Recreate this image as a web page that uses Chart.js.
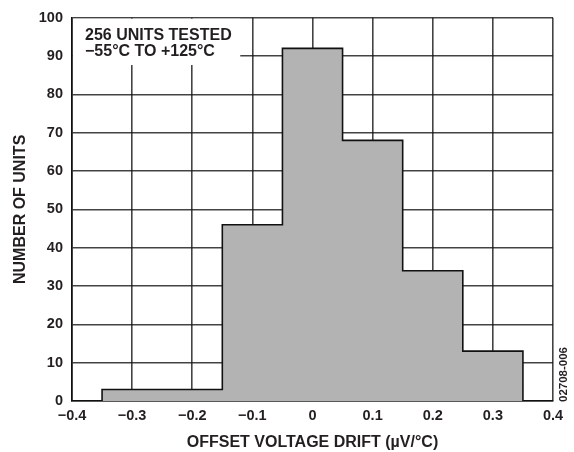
<!DOCTYPE html>
<html>
<head>
<meta charset="utf-8">
<script src="https://cdn.jsdelivr.net/npm/chart.js@4/dist/chart.umd.min.js"></script>
<style>
  html, body { margin: 0; padding: 0; background: #ffffff; }
  #wrap { width: 574px; height: 452px; }
</style>
</head>
<body>
<div id="wrap"><canvas id="c" width="574" height="452"></canvas></div>
<script>
// Histogram of offset voltage drift
const binEdges = [-0.35, -0.15, -0.05, 0.05, 0.15, 0.25, 0.35];
const unitCounts = [3, 46, 92, 68, 34, 13];

const xTickValues = [-0.4, -0.3, -0.2, -0.1, 0, 0.1, 0.2, 0.3, 0.4];
const xTickLabels = ['\u22120.4', '\u22120.3', '\u22120.2', '\u22120.1', '0', '0.1', '0.2', '0.3', '0.4'];
const yTickValues = [0, 10, 20, 30, 40, 50, 60, 70, 80, 90, 100];
const yTickLabels = ['0', '10', '20', '30', '40', '50', '60', '70', '80', '90', '100'];

const noteLines = ['256 UNITS TESTED', '\u221255\u00B0C TO +125\u00B0C'];
const xTitle = 'OFFSET VOLTAGE DRIFT (\u00B5V/\u00B0C)';
const yTitle = 'NUMBER OF UNITS';
const figureId = '02708-006';

// Outline of the histogram as a closed step path
const outline = [{ x: binEdges[0], y: 0 }];
unitCounts.forEach((n, i) => {
  outline.push({ x: binEdges[i], y: n });
  outline.push({ x: binEdges[i + 1], y: n });
});
outline.push({ x: binEdges[binEdges.length - 1], y: 0 });

const FONT = "'Liberation Sans', Arial, Helvetica, sans-serif";
const INK = '#231f20';

const notePlugin = {
  id: 'note',
  afterDraw(chart) {
    const { ctx, chartArea } = chart;
    const x = chart.scales.x, y = chart.scales.y;
    ctx.save();
    // white panel behind the test note
    ctx.fillStyle = '#ffffff';
    const right = x.getPixelForValue(-0.2) + 48;
    const bottom = y.getPixelForValue(90) + 9;
    ctx.fillRect(chartArea.left + 1, chartArea.top + 1, right - chartArea.left - 1, bottom - chartArea.top - 1);
    ctx.fillStyle = INK;
    ctx.font = 'bold 16px ' + FONT;
    ctx.textBaseline = 'alphabetic';
    ctx.textAlign = 'left';
    ctx.fillText(noteLines[0], chartArea.left + 13, chartArea.top + 22);
    ctx.fillText(noteLines[1], chartArea.left + 13, chartArea.top + 38);
    // figure id, rotated along the right edge
    ctx.translate(chartArea.right + 11, chartArea.bottom + 1);
    ctx.rotate(-Math.PI / 2);
    ctx.font = 'bold 11.5px ' + FONT;
    ctx.textBaseline = 'middle';
    ctx.textAlign = 'left';
    ctx.fillText(figureId, 0, 0);
    ctx.restore();
  }
};

new Chart(document.getElementById('c'), {
  type: 'line',
  data: {
    datasets: [{
      data: outline,
      borderColor: '#111111',
      borderWidth: 1.6,
      backgroundColor: '#b3b3b3',
      fill: 'origin',
      pointRadius: 0,
      tension: 0
    }]
  },
  options: {
    responsive: false,
    animation: false,
    events: [],
    layout: { padding: { top: 15, right: 21, left: 0, bottom: 0 } },
    plugins: { legend: { display: false }, tooltip: { enabled: false } },
    scales: {
      x: {
        type: 'linear',
        min: -0.4,
        max: 0.4,
        z: 1,
        afterBuildTicks: (s) => { s.ticks = xTickValues.map(v => ({ value: v })); },
        afterFit: (s) => { s.height = 51; },
        ticks: {
          padding: 6,
          color: INK,
          font: { family: FONT, size: 14.5, weight: 'bold' },
          maxRotation: 0,
          autoSkip: false,
          callback: (v, i) => xTickLabels[i]
        },
        grid: { color: 'rgba(20,20,20,0.8)', lineWidth: 1.6, drawTicks: false },
        border: { color: '#111111', width: 1.6 },
        title: {
          display: true,
          text: xTitle,
          color: INK,
          font: { family: FONT, size: 16, weight: 'bold' },
          padding: { top: 0, bottom: 0 }
        }
      },
      y: {
        type: 'linear',
        min: 0,
        max: 100,
        z: 1,
        afterBuildTicks: (s) => { s.ticks = yTickValues.map(v => ({ value: v })); },
        afterFit: (s) => { s.width = 72; },
        ticks: {
          padding: 9,
          color: INK,
          font: { family: FONT, size: 14.5, weight: 'bold' },
          autoSkip: false,
          callback: (v, i) => yTickLabels[i]
        },
        grid: { color: 'rgba(20,20,20,0.8)', lineWidth: 1.6, drawTicks: false },
        border: { color: '#111111', width: 1.6 },
        title: {
          display: true,
          text: yTitle,
          color: INK,
          font: { family: FONT, size: 16, weight: 'bold' },
          padding: { top: 11, bottom: 0 }
        }
      }
    }
  },
  plugins: [notePlugin]
});
</script>
</body>
</html>
